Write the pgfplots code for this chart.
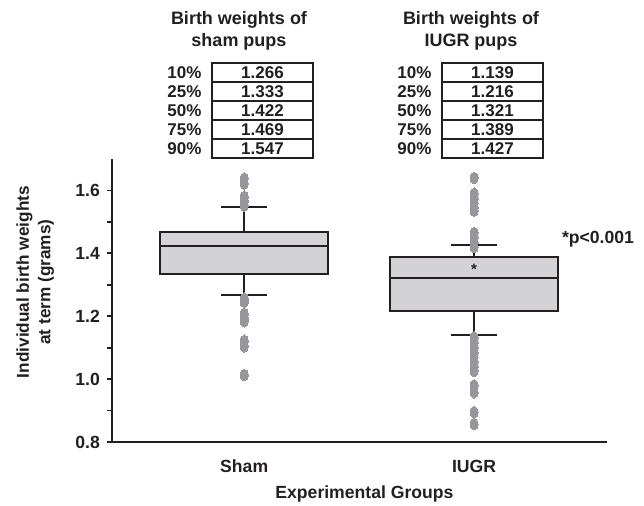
\documentclass[border=0pt]{standalone}
\usepackage{pgfplots}
\pgfplotsset{compat=1.18}
\usepgfplotslibrary{statistics}
\usepackage{fontspec}
\setmainfont{Liberation Sans}
\definecolor{boxfill}{RGB}{211,211,213}
\definecolor{dk}{RGB}{35,31,32}
\definecolor{dotc}{RGB}{150,150,155}
\begin{document}
\begin{tikzpicture}[font=\bfseries, x=1pt, y=1pt]
\path[use as bounding box] (-56,-32) rectangle (266,221);
\begin{axis}[
  at={(0,0)}, anchor=south west,
  scale only axis, width=247.5pt, height=141.5pt,
  xmin=0.425, xmax=2.578, ymin=0.8, ymax=1.7,
  axis x line*=bottom, axis y line*=left,
  axis line style={dk, line width=1pt},
  xtick={1,2}, xticklabels={Sham,IUGR},
  x tick style={draw=none},
  ytick={0.8,1.0,1.2,1.4,1.6}, minor ytick={0.9,1.1,1.3,1.5},
  tick align=outside, major tick length=2.5pt, minor tick length=2.5pt,
  y tick style={dk, line width=0.9pt},
  yticklabel style={/pgf/number format/.cd, fixed, fixed zerofill, precision=1, assume math mode=true},
  tick label style={font=\bfseries\fontsize{8.8}{10}\selectfont, text=dk},
  xticklabel style={anchor=base, yshift=-13pt},
  xlabel={Experimental Groups},
  xlabel style={at={(axis description cs:0.51,0)}, anchor=base, yshift=-28.5pt, font=\bfseries\fontsize{8.8}{10}\selectfont, text=dk},
  ylabel={Individual birth weights\\at term (grams)},
  ylabel style={at={(axis description cs:-0.155,0.565)}, anchor=center, align=center, font=\bfseries\fontsize{8.6}{10.8}\selectfont, text=dk},
  boxplot/draw direction=y,
  clip=false,
]
\addplot[boxplot prepared={draw position=1, lower whisker=1.266, lower quartile=1.333, median=1.422, upper quartile=1.469, upper whisker=1.547, box extend=0.73, whisker extend=0.2},
  draw=dk, line width=1pt, boxplot/every box/.style={draw=dk, fill=boxfill}] coordinates {};
\addplot[boxplot prepared={draw position=2, lower whisker=1.139, lower quartile=1.216, median=1.321, upper quartile=1.389, upper whisker=1.427, box extend=0.73, whisker extend=0.2},
  draw=dk, line width=1pt, boxplot/every box/.style={draw=dk, fill=boxfill}] coordinates {};
% outliers
\addplot[dotc, only marks, mark=*, mark size=2pt, mark options={draw=dotc, fill=dotc, line width=0pt, yscale=1.45}] coordinates {
 (1,1.638) (1,1.622) (1,1.580) (1,1.566) (1,1.552)
 (1,1.256) (1,1.246) (1,1.207) (1,1.195) (1,1.184) (1,1.122) (1,1.104) (1,1.013)
};
\addplot[dotc, only marks, mark=*, mark size=2pt, mark options={draw=dotc, fill=dotc, line width=0pt, yscale=1.45}] coordinates {
 (2,1.640) (2,1.590) (2,1.575) (2,1.560) (2,1.545) (2,1.536)
 (2,1.465) (2,1.450) (2,1.435) (2,1.420)
 (2,1.133) (2,1.115) (2,1.100) (2,1.085) (2,1.070) (2,1.055) (2,1.040) (2,1.026)
 (2,0.980) (2,0.958) (2,0.895) (2,0.857)
};
\node[font=\bfseries\fontsize{7.5}{8}\selectfont, text=dk] at (axis cs:2,1.348) {*};
\node[font=\bfseries\fontsize{8.8}{10}\selectfont, text=dk, anchor=base] at (axis cs:2.539,1.43) {*p<0.001};
\end{axis}
% titles
\begin{scope}[every node/.style={font=\bfseries\fontsize{9}{11}\selectfont, text=dk, anchor=base, inner sep=0pt}]
\node at (63.5,208.5) {Birth weights of};
\node at (63.5,197.5) {sham pups};
\node at (179.5,208.5) {Birth weights of};
\node at (179.5,197.5) {IUGR pups};
\end{scope}
% tables
\foreach \bx/\lx/\vals in {50/27.5/{1.266,1.333,1.422,1.469,1.547}, 165/142.5/{1.139,1.216,1.321,1.389,1.427}}{
  \draw[dk, line width=0.8pt] (\bx,142) rectangle ({\bx+50.5},189.5);
  \foreach \i in {1,2,3,4}{
    \draw[dk, line width=0.7pt] (\bx,{189.5-9.5*\i}) -- ({\bx+50.5},{189.5-9.5*\i});
  }
  \foreach \v [count=\i from 0] in \vals {
    \node[font=\bfseries\fontsize{8.5}{9}\selectfont, text=dk, inner sep=0pt, anchor=base] at ({\bx+25.25},{181.8-9.5*\i}) {\v};
  }
  \foreach \p [count=\i from 0] in {10\%,25\%,50\%,75\%,90\%}{
    \node[font=\bfseries\fontsize{8.5}{9}\selectfont, text=dk, inner sep=0pt, anchor=base west] at (\lx,{181.8-9.5*\i}) {\p};
  }
}
\end{tikzpicture}
\end{document}
